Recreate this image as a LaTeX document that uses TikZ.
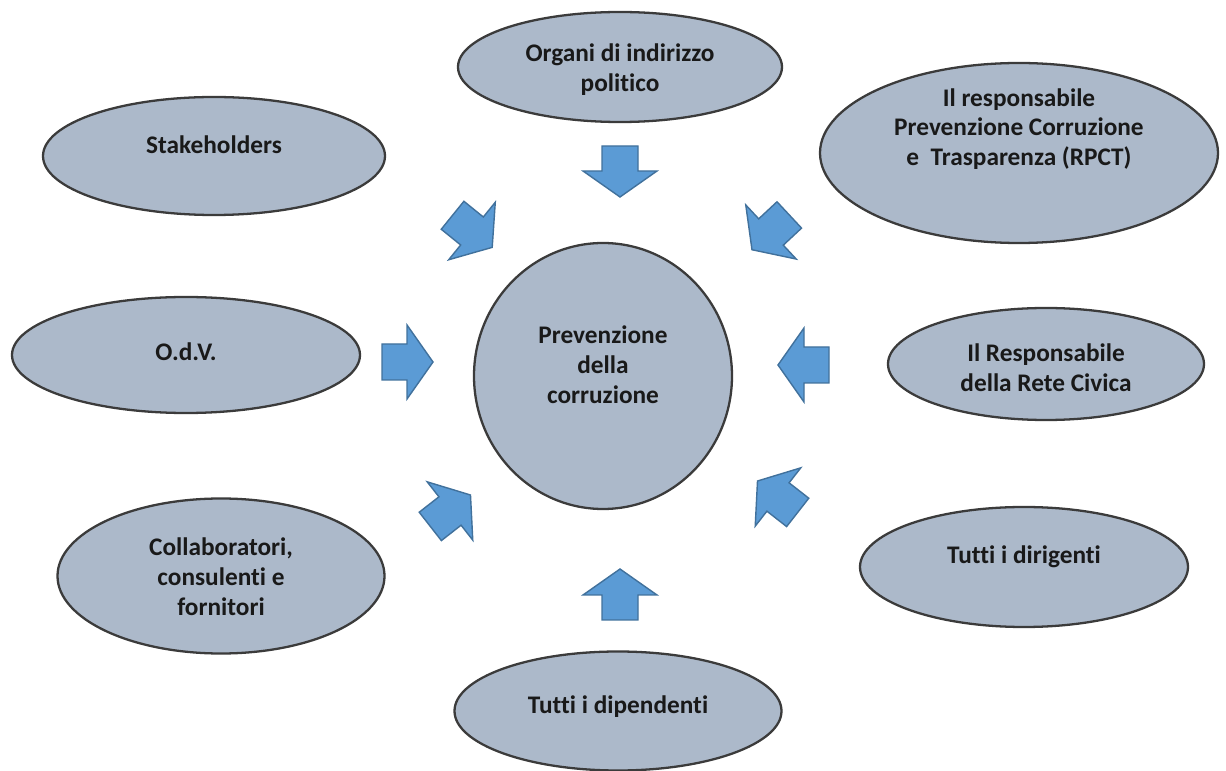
\documentclass[tikz,border=0pt]{standalone}
\usepackage{fontspec}
\setmainfont[Ligatures=NoCommon]{Carlito}
\usetikzlibrary{shapes.geometric}
\definecolor{bubblefill}{HTML}{ACB9CA}
\definecolor{bubbleline}{HTML}{3B3B3B}
\definecolor{arrowfill}{HTML}{5B9BD5}
\definecolor{arrowline}{HTML}{41719C}
\tikzset{
  bubble/.style={ellipse, draw=bubbleline, line width=0.65pt, fill=bubblefill, inner sep=0pt},
  bubbletext/.style={align=center, font=\fontsize{7.2}{8.5}\selectfont\bfseries, text=black!90, inner sep=0pt},
  blockarrow/.pic={\draw[fill=arrowfill, draw=arrowline, line width=0.4pt] (-0.25,0.18) -- (0,0.18) -- (0,0.37) -- (0.26,0) -- (0,-0.37) -- (0,-0.18) -- (-0.25,-0.18) -- cycle;}
}
\begin{document}
\begin{tikzpicture}
\useasboundingbox (0,0) rectangle (12.26,-7.71);
% the bubbles
\node[bubble, minimum width=3.24cm, minimum height=1.10cm] (organi) at (6.20,-0.67) {};
\node[bubble, minimum width=3.98cm, minimum height=1.80cm] (rpct) at (10.19,-1.53) {};
\node[bubble, minimum width=3.42cm, minimum height=1.18cm] (stake) at (2.14,-1.56) {};
\node[bubble, minimum width=3.48cm, minimum height=1.16cm] (odv) at (1.86,-3.55) {};
\node[bubble, minimum width=2.58cm, minimum height=2.66cm] (centro) at (6.03,-3.76) {};
\node[bubble, minimum width=3.16cm, minimum height=1.12cm] (rete) at (10.46,-3.64) {};
\node[bubble, minimum width=3.27cm, minimum height=1.55cm] (collab) at (2.21,-5.76) {};
\node[bubble, minimum width=3.28cm, minimum height=1.20cm] (dirig) at (10.24,-5.67) {};
\node[bubble, minimum width=3.27cm, minimum height=1.19cm] (dipend) at (6.18,-7.11) {};
% the texts
\node[bubbletext] (organiT) at (6.20,-0.70) {Organi di indirizzo\\politico};
\node[bubbletext] (rpctT) at (10.19,-1.29) {Il responsabile\\Prevenzione Corruzione\\e\ \ Trasparenza (RPCT)};
\node[bubbletext] (stakeT) at (2.14,-1.45) {Stakeholders};
\node[bubbletext] (odvT) at (1.86,-3.52) {O.d.V.};
\node[bubbletext] (centroT) at (6.03,-3.65) {Prevenzione\\della\\corruzione};
\node[bubbletext] (reteT) at (10.46,-3.68) {Il Responsabile\\della Rete Civica};
\node[bubbletext] (collabT) at (2.21,-5.77) {Collaboratori,\\consulenti e\\fornitori};
\node[bubbletext] (dirigT) at (10.24,-5.57) {Tutti i dirigenti};
\node[bubbletext] (dipendT) at (6.18,-7.07) {Tutti i dipendenti};
% the block arrows
\foreach \x/\y/\a in {6.20/-1.71/-90, 6.20/-5.95/90, 4.07/-3.62/0, 8.04/-3.65/180,
                      4.72/-2.31/-39, 7.71/-2.32/-137, 4.50/-5.11/38, 7.78/-4.97/142}
  \pic[rotate=\a] at (\x,\y) {blockarrow};
\end{tikzpicture}
\end{document}
